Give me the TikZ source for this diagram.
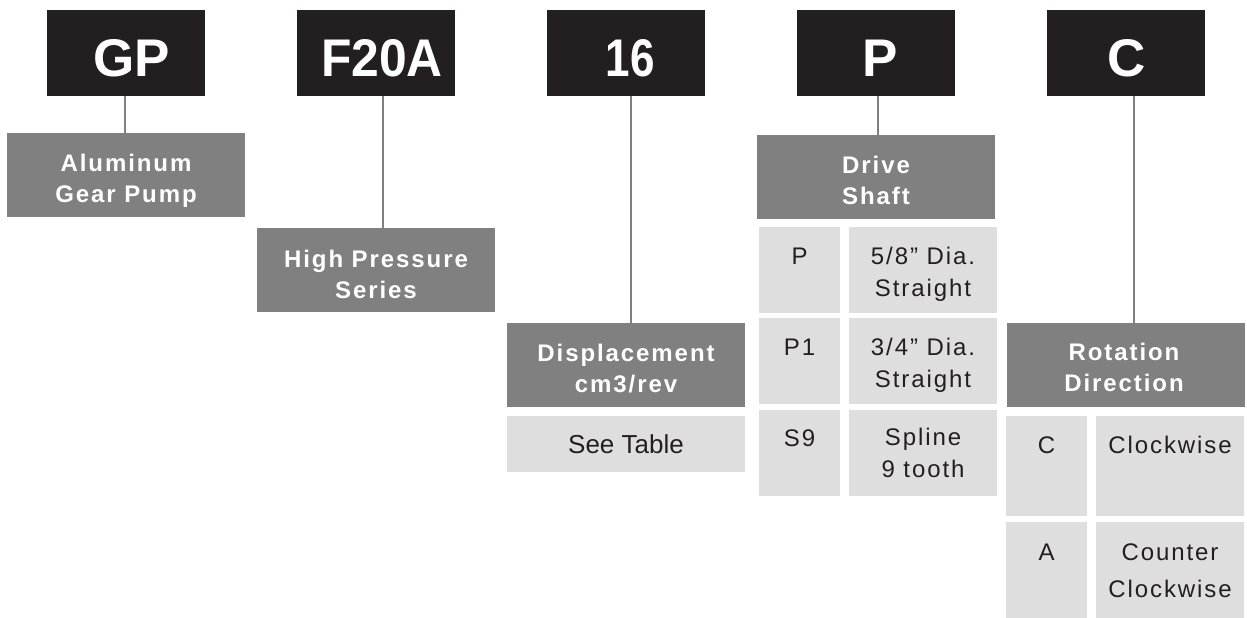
\documentclass[tikz,border=0pt]{standalone}
\usepackage{fontspec}
\setmainfont{Liberation Sans}
\newfontfamily\hdfont{Liberation Sans}
\newfontfamily\spfont[LetterSpace=8]{Liberation Sans}
\definecolor{hdblack}{HTML}{231F20}
\definecolor{grdark}{HTML}{808080}
\definecolor{ltgrey}{HTML}{DEDEDE}
\definecolor{txtdark}{HTML}{231F20}
\definecolor{lineg}{HTML}{808080}
\begin{document}
\begin{tikzpicture}[x=1pt,y=-1pt,
  hdbox/.style={fill=hdblack, draw=none, minimum width=158pt, minimum height=86pt, inner sep=0pt, outer sep=0pt, anchor=north west},
  grbox/.style={fill=grdark, draw=none, minimum width=238pt, minimum height=84pt, inner sep=0pt, outer sep=0pt, anchor=north west},
  ltbox/.style={fill=ltgrey, draw=none, inner sep=0pt, outer sep=0pt, anchor=north west},
  hdtext/.style={text=white, font=\hdfont\bfseries\fontsize{53}{60}\selectfont, anchor=base, inner sep=0pt},
  grtext/.style={text=white, font=\spfont\bfseries\fontsize{24}{31}\selectfont, align=center, anchor=base, inner sep=0pt},
  lttext/.style={text=txtdark, font=\spfont\fontsize{24}{32}\selectfont, align=center, anchor=base, inner sep=0pt},
  conn/.style={draw=lineg, line width=2.2pt}
]
\useasboundingbox (0,0) rectangle (1247,618);

% header boxes
\node[hdbox] (hGP) at (47,10) {};
\node[hdbox] (hF) at (297,10) {};
\node[hdbox] (h16) at (547,10) {};
\node[hdbox] (hP) at (797,10) {};
\node[hdbox] (hC) at (1047,10) {};
\node[hdtext] (tGP) at ([xshift=6pt,yshift=-67pt]hGP.north) {GP};
\node[hdtext] (tF) at ([xshift=6pt,yshift=-67pt]hF.north) {\scalebox{0.94}[1]{F20A}};
\node[hdtext] (t16) at ([xshift=4pt,yshift=-67pt]h16.north) {\scalebox{0.83}[1]{16}};
\node[hdtext] (tP) at ([xshift=4pt,yshift=-67pt]hP.north) {P};
\node[hdtext] (tC) at ([xshift=1pt,yshift=-67pt]hC.north) {C};

% grey category boxes
\node[grbox] (gGP) at (7,133) {};
\node[grbox] (gF) at (257,228) {};
\node[grbox] (g16) at (507,323) {};
\node[grbox] (gP) at (757,135) {};
\node[grbox] (gC) at (1007,323) {};
\node[grtext] (sGP) at ([yshift=-69pt]gGP.north) {Aluminum\\Gear Pump};
\node[grtext] (sF) at ([yshift=-70pt]gF.north) {High Pressure\\Series};
\node[grtext] (s16) at ([yshift=-69pt]g16.north) {Displacement\\cm3/rev};
\node[grtext] (sP) at ([yshift=-69pt]gP.north) {Drive\\Shaft};
\node[grtext] (sC) at ([xshift=-2pt,yshift=-68pt]gC.north) {Rotation\\Direction};

% light cells
\node[ltbox, minimum width=238pt, minimum height=56pt] (cST) at (507,416) {};
\node[text=txtdark, font=\hdfont\fontsize{26}{30}\selectfont, anchor=base, inner sep=0pt] (xST) at ([yshift=-37pt]cST.north) {See Table};

\node[ltbox, minimum width=81pt, minimum height=86pt] (dA1) at (759,227) {};
\node[ltbox, minimum width=148pt, minimum height=86pt] (dB1) at (849,227) {};
\node[ltbox, minimum width=81pt, minimum height=86pt] (dA2) at (759,318) {};
\node[ltbox, minimum width=148pt, minimum height=86pt] (dB2) at (849,318) {};
\node[ltbox, minimum width=81pt, minimum height=86pt] (dA3) at (759,410) {};
\node[ltbox, minimum width=148pt, minimum height=86pt] (dB3) at (849,410) {};
\node[lttext] (xA1) at ([yshift=-37pt]dA1.north) {P};
\node[lttext] (xB1) at ([yshift=-69pt]dB1.north) {5/8” Dia.\\Straight};
\node[lttext] (xA2) at ([yshift=-37pt]dA2.north) {P1};
\node[lttext] (xB2) at ([yshift=-69pt]dB2.north) {3/4” Dia.\\Straight};
\node[lttext] (xA3) at ([yshift=-36pt]dA3.north) {S9};
\node[lttext] (xB3) at ([yshift=-67pt]dB3.north) {Spline\\9 tooth};

\node[ltbox, minimum width=81pt, minimum height=100pt] (rA1) at (1006,416) {};
\node[ltbox, minimum width=148pt, minimum height=100pt] (rB1) at (1096,416) {};
\node[ltbox, minimum width=81pt, minimum height=100pt] (rA2) at (1006,522) {};
\node[ltbox, minimum width=148pt, minimum height=100pt] (rB2) at (1096,522) {};
\node[lttext] (yA1) at ([yshift=-37pt]rA1.north) {C};
\node[lttext] (yB1) at ([yshift=-37pt]rB1.north) {Clockwise};
\node[lttext] (yA2) at ([yshift=-38pt]rA2.north) {A};
\node[lttext, font=\spfont\fontsize{24}{37}\selectfont] (yB2) at ([yshift=-75pt]rB2.north) {Counter\\Clockwise};

% connectors
\draw[conn] ([xshift=-1pt]hGP.south) -- ([xshift=-1pt]gGP.north);
\draw[conn] ([xshift=7pt]hF.south) -- ([xshift=7pt]gF.north);
\draw[conn] ([xshift=5pt]h16.south) -- ([xshift=5pt]g16.north);
\draw[conn] ([xshift=2pt]hP.south) -- ([xshift=2pt]gP.north);
\draw[conn] ([xshift=8pt]hC.south) -- ([xshift=8pt]gC.north);
\end{tikzpicture}
\end{document}
